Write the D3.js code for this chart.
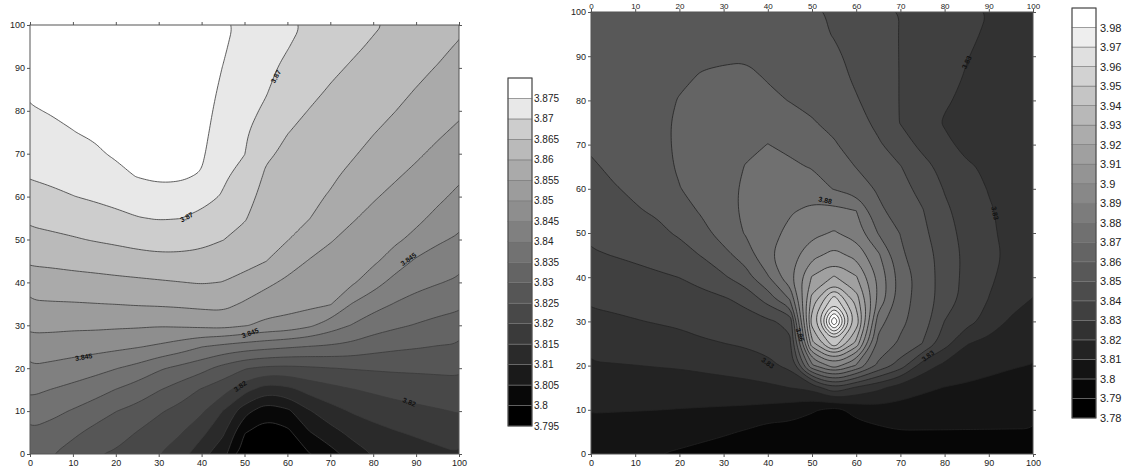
<!DOCTYPE html>
<html>
<head>
<meta charset="utf-8">
<script src="https://cdn.jsdelivr.net/npm/d3@7"></script>
<style>
  body { margin: 0; background: #fff; }
  svg { display: block; }
  text { font-family: "Liberation Sans", Arial, sans-serif; }
</style>
</head>
<body>
<svg id="chart" width="1133" height="475"></svg>
<script>
// Sampling grid shared by both maps (map units 0..100)
const gridX = [0, 5, 10, 15, 20, 25, 30, 35, 40, 45, 50, 55, 60, 65, 70, 75, 80, 85, 90, 95, 100];
const gridY = [0, 5, 10, 15, 20, 25, 30, 35, 40, 45, 50, 55, 60, 65, 70, 75, 80, 85, 90, 95, 100];

// Left map: one column per gridX value, listed from y = 0 up to y = 100
const leftGrid = [
  [3.8309,3.8343,3.8377,3.8411,3.8445,3.8479,3.8512,3.8544,3.8576,3.8607,3.8634,3.8660,3.8683,3.8704,3.8718,3.8732,3.8746,3.8758,3.8765,3.8770,3.8775],
  [3.8303,3.8331,3.8363,3.8399,3.8438,3.8476,3.8512,3.8546,3.8579,3.8610,3.8640,3.8666,3.8691,3.8710,3.8725,3.8740,3.8753,3.8762,3.8768,3.8773,3.8777],
  [3.8276,3.8311,3.8346,3.8386,3.8429,3.8471,3.8510,3.8547,3.8582,3.8615,3.8646,3.8673,3.8699,3.8716,3.8733,3.8749,3.8758,3.8765,3.8770,3.8775,3.8778],
  [3.8255,3.8285,3.8326,3.8370,3.8417,3.8467,3.8510,3.8549,3.8585,3.8619,3.8653,3.8681,3.8706,3.8725,3.8743,3.8756,3.8763,3.8768,3.8772,3.8776,3.8779],
  [3.8243,3.8272,3.8301,3.8349,3.8402,3.8461,3.8508,3.8551,3.8588,3.8625,3.8659,3.8689,3.8714,3.8737,3.8756,3.8764,3.8769,3.8773,3.8776,3.8779,3.8781],
  [3.8212,3.8248,3.8284,3.8327,3.8385,3.8453,3.8507,3.8554,3.8591,3.8631,3.8666,3.8698,3.8726,3.8753,3.8764,3.8770,3.8775,3.8778,3.8780,3.8782,3.8784],
  [3.8201,3.8227,3.8256,3.8303,3.8357,3.8442,3.8504,3.8556,3.8595,3.8635,3.8671,3.8703,3.8735,3.8758,3.8768,3.8774,3.8778,3.8781,3.8783,3.8785,3.8786],
  [3.8173,3.8204,3.8234,3.8277,3.8337,3.8425,3.8507,3.8559,3.8599,3.8636,3.8669,3.8701,3.8733,3.8757,3.8767,3.8773,3.8777,3.8780,3.8782,3.8784,3.8785],
  [3.8117,3.8163,3.8208,3.8246,3.8316,3.8401,3.8512,3.8563,3.8603,3.8634,3.8662,3.8688,3.8717,3.8747,3.8757,3.8762,3.8765,3.8768,3.8770,3.8772,3.8774],
  [3.8068,3.8108,3.8148,3.8220,3.8283,3.8386,3.8517,3.8565,3.8599,3.8626,3.8651,3.8674,3.8696,3.8707,3.8716,3.8727,3.8736,3.8743,3.8749,3.8755,3.8760],
  [3.7970,3.8002,3.8069,3.8167,3.8254,3.8374,3.8504,3.8544,3.8586,3.8614,3.8634,3.8654,3.8669,3.8685,3.8701,3.8706,3.8713,3.8719,3.8725,3.8732,3.8738],
  [3.7950,3.7980,3.8016,3.8122,3.8240,3.8365,3.8488,3.8527,3.8560,3.8601,3.8612,3.8623,3.8633,3.8644,3.8657,3.8675,3.8693,3.8704,3.8710,3.8716,3.8723],
  [3.7960,3.7987,3.8039,3.8134,3.8238,3.8356,3.8481,3.8519,3.8541,3.8571,3.8602,3.8611,3.8621,3.8631,3.8641,3.8651,3.8664,3.8677,3.8691,3.8702,3.8709],
  [3.7997,3.8046,3.8095,3.8167,3.8243,3.8348,3.8460,3.8514,3.8531,3.8548,3.8576,3.8602,3.8611,3.8621,3.8630,3.8640,3.8649,3.8661,3.8672,3.8684,3.8695],
  [3.8031,3.8081,3.8131,3.8184,3.8249,3.8343,3.8426,3.8504,3.8520,3.8536,3.8553,3.8574,3.8596,3.8608,3.8618,3.8627,3.8637,3.8647,3.8658,3.8670,3.8682],
  [3.8073,3.8113,3.8154,3.8198,3.8253,3.8335,3.8398,3.8449,3.8508,3.8523,3.8538,3.8554,3.8572,3.8590,3.8605,3.8615,3.8625,3.8636,3.8646,3.8657,3.8668],
  [3.8102,3.8132,3.8169,3.8208,3.8256,3.8320,3.8374,3.8419,3.8471,3.8509,3.8524,3.8539,3.8554,3.8570,3.8587,3.8602,3.8613,3.8623,3.8634,3.8645,3.8655],
  [3.8112,3.8146,3.8180,3.8217,3.8258,3.8310,3.8359,3.8398,3.8433,3.8478,3.8509,3.8524,3.8540,3.8555,3.8570,3.8586,3.8601,3.8611,3.8622,3.8633,3.8643],
  [3.8125,3.8157,3.8189,3.8222,3.8259,3.8304,3.8347,3.8383,3.8415,3.8443,3.8487,3.8511,3.8526,3.8541,3.8556,3.8570,3.8585,3.8599,3.8610,3.8620,3.8631],
  [3.8138,3.8167,3.8196,3.8227,3.8260,3.8298,3.8336,3.8371,3.8403,3.8430,3.8457,3.8488,3.8510,3.8525,3.8541,3.8556,3.8570,3.8584,3.8598,3.8610,3.8622],
  [3.8148,3.8176,3.8203,3.8231,3.8261,3.8295,3.8328,3.8361,3.8392,3.8418,3.8443,3.8467,3.8489,3.8509,3.8525,3.8542,3.8557,3.8570,3.8583,3.8596,3.8609]
];

// Right map: one column per gridX value, listed from y = 0 up to y = 100
const rightGrid = [
  [3.8022,3.8064,3.8107,3.8149,3.8192,3.8233,3.8275,3.8315,3.8353,3.8391,3.8418,3.8442,3.8465,3.8489,3.8512,3.8525,3.8535,3.8545,3.8553,3.8560,3.8567],
  [3.8014,3.8059,3.8105,3.8150,3.8195,3.8240,3.8284,3.8325,3.8364,3.8402,3.8432,3.8462,3.8493,3.8515,3.8530,3.8540,3.8548,3.8555,3.8560,3.8565,3.8570],
  [3.8007,3.8055,3.8103,3.8151,3.8199,3.8247,3.8295,3.8336,3.8375,3.8415,3.8453,3.8492,3.8515,3.8530,3.8543,3.8550,3.8555,3.8560,3.8563,3.8566,3.8569],
  [3.8003,3.8048,3.8101,3.8152,3.8204,3.8256,3.8306,3.8346,3.8387,3.8432,3.8479,3.8512,3.8565,3.8570,3.8575,3.8575,3.8570,3.8560,3.8555,3.8550,3.8545],
  [3.7987,3.8042,3.8097,3.8153,3.8209,3.8267,3.8317,3.8359,3.8401,3.8459,3.8513,3.8555,3.8597,3.8610,3.8615,3.8615,3.8605,3.8585,3.8565,3.8555,3.8550],
  [3.7968,3.8030,3.8093,3.8156,3.8220,3.8287,3.8333,3.8374,3.8428,3.8505,3.8566,3.8612,3.8635,3.8640,3.8640,3.8635,3.8625,3.8608,3.8585,3.8565,3.8552],
  [3.7941,3.8015,3.8088,3.8162,3.8232,3.8299,3.8344,3.8388,3.8486,3.8571,3.8640,3.8665,3.8670,3.8670,3.8655,3.8640,3.8628,3.8612,3.8592,3.8570,3.8555],
  [3.7905,3.7991,3.8082,3.8169,3.8247,3.8313,3.8360,3.8428,3.8562,3.8643,3.8708,3.8718,3.8715,3.8703,3.8685,3.8665,3.8645,3.8620,3.8592,3.8570,3.8557],
  [3.7925,3.7953,3.8070,3.8180,3.8275,3.8335,3.8384,3.8540,3.8689,3.8785,3.8765,3.8745,3.8725,3.8710,3.8701,3.8675,3.8618,3.8595,3.8575,3.8558,3.8550],
  [3.7920,3.7955,3.8050,3.8201,3.8326,3.8380,3.8425,3.8705,3.8876,3.8856,3.8825,3.8790,3.8740,3.8712,3.8685,3.8635,3.8597,3.8583,3.8550,3.8537,3.8527],
  [3.7910,3.7940,3.8012,3.8231,3.8780,3.9167,3.9350,3.9236,3.9108,3.8969,3.8872,3.8825,3.8745,3.8695,3.8652,3.8605,3.8585,3.8565,3.8535,3.8523,3.8512],
  [3.7910,3.7935,3.7970,3.8386,3.8950,3.9470,4.0000,3.9555,3.9210,3.9034,3.8910,3.8832,3.8695,3.8651,3.8607,3.8582,3.8560,3.8538,3.8517,3.8495,3.8490],
  [3.7915,3.7950,3.8034,3.8285,3.8790,3.9167,3.9375,3.9250,3.9110,3.8970,3.8854,3.8801,3.8649,3.8597,3.8567,3.8538,3.8508,3.8485,3.8473,3.8465,3.8460],
  [3.7925,3.7975,3.8062,3.8223,3.8578,3.8667,3.8740,3.8880,3.8879,3.8817,3.8695,3.8620,3.8588,3.8549,3.8513,3.8475,3.8454,3.8442,3.8436,3.8432,3.8430],
  [3.7940,3.7995,3.8060,3.8156,3.8450,3.8585,3.8620,3.8644,3.8657,3.8617,3.8597,3.8558,3.8531,3.8504,3.8444,3.8396,3.8396,3.8397,3.8397,3.8397,3.8398],
  [3.7940,3.7995,3.8052,3.8119,3.8253,3.8498,3.8554,3.8554,3.8553,3.8542,3.8524,3.8505,3.8472,3.8432,3.8376,3.8345,3.8355,3.8363,3.8367,3.8371,3.8374],
  [3.7940,3.7995,3.8047,3.8097,3.8176,3.8339,3.8398,3.8457,3.8461,3.8461,3.8438,3.8418,3.8394,3.8368,3.8320,3.8292,3.8311,3.8326,3.8335,3.8342,3.8348],
  [3.7940,3.7995,3.8041,3.8086,3.8144,3.8205,3.8337,3.8361,3.8371,3.8374,3.8369,3.8360,3.8345,3.8312,3.8275,3.8265,3.8280,3.8293,3.8303,3.8314,3.8323],
  [3.7940,3.7995,3.8037,3.8077,3.8121,3.8170,3.8260,3.8298,3.8314,3.8319,3.8318,3.8310,3.8295,3.8285,3.8255,3.8250,3.8260,3.8272,3.8280,3.8290,3.8298],
  [3.7940,3.7995,3.8033,3.8071,3.8106,3.8145,3.8185,3.8245,3.8270,3.8285,3.8270,3.8270,3.8270,3.8260,3.8245,3.8240,3.8248,3.8260,3.8270,3.8280,3.8285],
  [3.7940,3.7995,3.8030,3.8064,3.8097,3.8129,3.8161,3.8195,3.8265,3.8275,3.8265,3.8260,3.8255,3.8250,3.8240,3.8235,3.8240,3.8250,3.8260,3.8270,3.8275]
];

// Contour levels (lower edge of each colour band)
const leftLevels = [3.795, 3.8, 3.805, 3.81, 3.815, 3.82, 3.825, 3.83, 3.835, 3.84, 3.845, 3.85, 3.855, 3.86, 3.865, 3.87, 3.875];
const rightLevels = [3.78, 3.79, 3.8, 3.81, 3.82, 3.83, 3.84, 3.85, 3.86, 3.87, 3.88, 3.89, 3.9, 3.91, 3.92, 3.93, 3.94, 3.95, 3.96, 3.97, 3.98];
const rightExtraLines = [3.99];

// Axis ticks
const axisTicks = [0, 10, 20, 30, 40, 50, 60, 70, 80, 90, 100];

// In-map contour labels: text, anchor in map units
const leftLabels = [
  { text: "3.87", x: 36.5, y: 55.2 },
  { text: "3.87", x: 57.3, y: 88.0 },
  { text: "3.845", x: 12.5, y: 22.6 },
  { text: "3.845", x: 51.3, y: 28.2 },
  { text: "3.845", x: 88.2, y: 45.4 },
  { text: "3.82", x: 49.0, y: 15.8 },
  { text: "3.82", x: 88.4, y: 12.1 }
];
const leftLabelAngles = [-28, -62, -10, -20, -35, -35, 22];

const rightLabels = [
  { text: "3.83", x: 85.0, y: 88.6 },
  { text: "3.83", x: 91.4, y: 54.5 },
  { text: "3.88", x: 53.0, y: 57.4 },
  { text: "3.86", x: 47.3, y: 27.0 },
  { text: "3.83", x: 40.0, y: 20.6 },
  { text: "3.83", x: 76.2, y: 22.2 }
];
const rightLabelAngles = [-65, 78, 12, 72, 35, -38];

// ---------- styling ----------
const leftGrays  = [0, 8, 26, 42, 58, 72, 86, 100, 114, 128, 142, 156, 170, 186, 205, 232, 255];
const rightGrays = [0, 6, 20, 35, 50, 64, 76, 88, 100, 112, 124, 136, 148, 160, 172, 184, 197, 210, 224, 238, 255];
const grayColor = g => `rgb(${g},${g},${g})`;

const svg = d3.select("#chart");

const leftX = d3.scaleLinear([0, 100], [30, 459]);
const leftY = d3.scaleLinear([0, 100], [454, 25]);
const rightX = d3.scaleLinear([0, 100], [591, 1033]);
const rightY = d3.scaleLinear([0, 100], [454, 12]);

// Corner-cutting of contour rings; vertices on the grid border stay put
function smoothRing(ring, nx, ny, passes) {
  const eps = 1e-9;
  const fixed = p => p[0] <= eps || p[0] >= nx - eps || p[1] <= eps || p[1] >= ny - eps;
  let pts = ring.slice(0, ring.length - 1);
  for (let k = 0; k < passes; k++) {
    const out = [];
    const L = pts.length;
    for (let i = 0; i < L; i++) {
      const p = pts[i];
      if (fixed(p)) { out.push(p); continue; }
      const a = pts[(i - 1 + L) % L], b = pts[(i + 1) % L];
      out.push([0.75 * p[0] + 0.25 * a[0], 0.75 * p[1] + 0.25 * a[1]]);
      out.push([0.75 * p[0] + 0.25 * b[0], 0.75 * p[1] + 0.25 * b[1]]);
    }
    pts = out;
  }
  return pts;
}

function drawMap(grid, levels, extraLines, grays, xs, ys, clipId, lineColor) {
  const nx = grid.length, ny = grid[0].length;
  const values = new Array(nx * ny);
  for (let j = 0; j < ny; j++) for (let i = 0; i < nx; i++) values[j * nx + i] = grid[i][j];
  const step = gridX[1] - gridX[0];
  const px = c => xs(gridX[0] + (c - 0.5) * step);
  const py = r => ys(gridY[0] + (r - 0.5) * step);
  const toPath = mp => mp.coordinates.map(poly => poly.map(ring => {
    const pts = smoothRing(ring, nx, ny, 3);
    return "M" + pts.map(p => px(p[0]).toFixed(2) + "," + py(p[1]).toFixed(2)).join("L") + "Z";
  }).join("")).join("");

  const [x0, x1] = xs.range();
  const [yb, yt] = ys.range();
  svg.append("clipPath").attr("id", clipId)
    .append("rect").attr("x", x0).attr("y", yt).attr("width", x1 - x0).attr("height", yb - yt);
  const g = svg.append("g").attr("clip-path", `url(#${clipId})`);

  g.append("rect").attr("x", x0).attr("y", yt).attr("width", x1 - x0).attr("height", yb - yt)
    .attr("fill", grayColor(grays[0]));

  const bands = d3.contours().size([nx, ny]).thresholds(levels.slice(1))(values);
  bands.forEach((c, k) => {
    g.append("path").attr("d", toPath(c)).attr("fill", grayColor(grays[k + 1])).attr("fill-rule", "evenodd");
  });

  const lines = d3.contours().size([nx, ny]).thresholds(levels.slice(1).concat(extraLines))(values);
  lines.forEach(c => {
    g.append("path").attr("d", toPath(c)).attr("fill", "none")
      .attr("stroke", lineColor).attr("stroke-width", 0.8).attr("stroke-linejoin", "round");
  });

  svg.append("rect").attr("x", x0).attr("y", yt).attr("width", x1 - x0).attr("height", yb - yt)
    .attr("fill", "none").attr("stroke", "#555").attr("stroke-width", 1);
}

function styleAxis(sel, size) {
  sel.select(".domain").remove();
  sel.selectAll(".tick line").attr("stroke", "#555");
  sel.selectAll(".tick text").attr("font-size", size).attr("fill", "#222")
    .style("font-family", '"Liberation Sans", Arial, sans-serif');
  return sel;
}

function drawAxes(xs, ys, topLabels) {
  const [x0, x1] = xs.range();
  const [yb, yt] = ys.range();
  const fmt = d3.format("d");
  styleAxis(svg.append("g").attr("transform", `translate(0,${yb})`)
    .call(d3.axisBottom(xs).tickValues(axisTicks).tickSize(3).tickPadding(3).tickFormat(fmt)), 9);
  styleAxis(svg.append("g").attr("transform", `translate(${x0},0)`)
    .call(d3.axisLeft(ys).tickValues(axisTicks).tickSize(3).tickPadding(2).tickFormat(fmt)), 9);
  const top = styleAxis(svg.append("g").attr("transform", `translate(0,${yt})`)
    .call(d3.axisTop(xs).tickValues(axisTicks).tickSize(3).tickPadding(3).tickFormat(topLabels ? fmt : "")), 8);
  if (topLabels) {
    // keep the small top labels just inside the page edge
    top.selectAll(".tick text").attr("y", -3.5).attr("dy", 0).attr("dominant-baseline", "auto");
  }
  styleAxis(svg.append("g").attr("transform", `translate(${x1},0)`)
    .call(d3.axisRight(ys).tickValues(axisTicks).tickSize(3).tickFormat("")), 9);
}

function drawLabels(labels, angles, xs, ys) {
  labels.forEach((d, i) => {
    svg.append("text")
      .attr("transform", `translate(${xs(d.x)},${ys(d.y)}) rotate(${angles[i]})`)
      .attr("text-anchor", "middle").attr("dominant-baseline", "central")
      .attr("font-size", 7).attr("font-weight", "bold").attr("fill", "#111")
      .text(d.text);
  });
}

function drawColorbar(levels, grays, step, x, width, top, bottom, labelX, fontSize, digits) {
  const s = d3.scaleLinear([levels[0], levels[levels.length - 1] + step], [bottom, top]);
  const g = svg.append("g");
  levels.forEach((v, k) => {
    g.append("rect").attr("x", x).attr("y", s(v + step)).attr("width", width)
      .attr("height", s(v) - s(v + step)).attr("fill", grayColor(grays[k]))
      .attr("stroke", "#777").attr("stroke-width", 0.6);
  });
  g.append("rect").attr("x", x).attr("y", top).attr("width", width).attr("height", bottom - top)
    .attr("fill", "none").attr("stroke", "#444").attr("stroke-width", 1);
  levels.forEach(v => {
    g.append("text").attr("x", labelX).attr("y", s(v)).attr("dominant-baseline", "central")
      .attr("font-size", fontSize).attr("fill", "#222")
      .text(String(+v.toFixed(digits)));
  });
}

drawMap(leftGrid, leftLevels, [], leftGrays, leftX, leftY, "clipLeft", "#3a3a3a");
drawMap(rightGrid, rightLevels, rightExtraLines, rightGrays, rightX, rightY, "clipRight", "#222");
drawAxes(leftX, leftY, false);
drawAxes(rightX, rightY, true);
drawLabels(leftLabels, leftLabelAngles, leftX, leftY);
drawLabels(rightLabels, rightLabelAngles, rightX, rightY);
drawColorbar(leftLevels, leftGrays, 0.005, 508, 24, 78, 426, 534, 10, 3);
drawColorbar(rightLevels, rightGrays, 0.01, 1072, 24, 8, 418, 1100, 11, 2);
</script>
</body>
</html>
